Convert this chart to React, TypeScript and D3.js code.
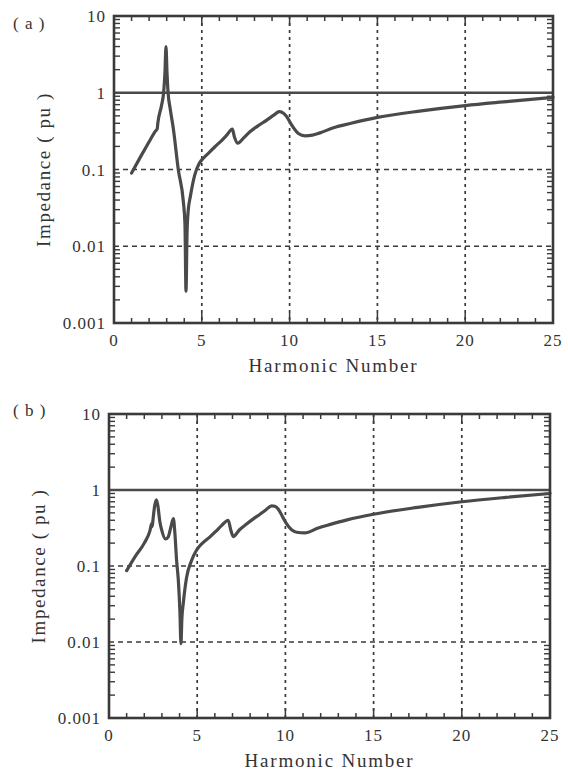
import React, { useEffect, useRef } from "react";
import * as d3 from "d3";

// panel (a) - harmonic number vs impedance (pu)
const harmA = [1.0, 1.5, 2.0, 2.33, 2.46, 2.5, 2.71, 2.83, 2.9, 2.96, 3.02, 3.08, 3.2, 3.38, 3.66, 3.95, 4.04, 4.1, 4.16, 4.22, 4.36, 4.6, 4.85, 5.09, 5.4, 5.75, 6.1, 6.42, 6.74, 6.85, 7.05, 7.4, 7.74, 8.2, 8.7, 9.1, 9.41, 9.6, 9.83, 10.12, 10.5, 10.88, 11.3, 11.73, 12.5, 13.5, 15, 17.5, 20, 22.5, 25];
const impA = [0.09, 0.145, 0.23, 0.31, 0.34, 0.41, 0.69, 1.03, 1.8, 4.0, 1.8, 1.0, 0.62, 0.34, 0.1, 0.038, 0.02, 0.0026, 0.015, 0.028, 0.046, 0.085, 0.12, 0.14, 0.165, 0.198, 0.235, 0.28, 0.336, 0.27, 0.22, 0.26, 0.31, 0.37, 0.44, 0.51, 0.566, 0.55, 0.49, 0.38, 0.295, 0.275, 0.28, 0.3, 0.35, 0.4, 0.477, 0.58, 0.68, 0.77, 0.87];

// panel (b)
const harmB = [1.0, 1.5, 2.0, 2.32, 2.42, 2.45, 2.5, 2.59, 2.69, 2.78, 2.87, 3.0, 3.2, 3.35, 3.5, 3.65, 3.74, 3.83, 3.93, 4.02, 4.08, 4.13, 4.21, 4.4, 4.68, 4.95, 5.3, 5.71, 6.05, 6.38, 6.76, 6.9, 7.05, 7.4, 7.8, 8.2, 8.56, 8.9, 9.22, 9.4, 9.6, 9.85, 10.07, 10.35, 10.64, 11.1, 11.86, 12.5, 13.5, 15, 17.5, 20, 22.5, 25];
const impB = [0.087, 0.135, 0.2, 0.29, 0.36, 0.33, 0.42, 0.62, 0.74, 0.6, 0.4, 0.29, 0.227, 0.24, 0.32, 0.42, 0.26, 0.12, 0.065, 0.025, 0.0095, 0.02, 0.032, 0.071, 0.118, 0.16, 0.2, 0.24, 0.285, 0.34, 0.4, 0.3, 0.244, 0.3, 0.357, 0.42, 0.48, 0.55, 0.62, 0.61, 0.56, 0.44, 0.358, 0.3, 0.278, 0.272, 0.316, 0.35, 0.405, 0.48, 0.59, 0.7, 0.8, 0.9];

const xTicks = [0, 5, 10, 15, 20, 25];
const yTicks = [10, 1, 0.1, 0.01, 0.001];
const yTickLabels = ["10", "1", "0.1", "0.01", "0.001"];

const ink = "#3a3a3a";
const font = "Liberation Serif, Tinos, DejaVu Serif, Times New Roman, serif";

function drawPanel(svg, p, hs, vs) {
  const x = d3.scaleLinear().domain([0, 25]).range([p.left, p.right]);
  const y = d3.scaleLog().domain([0.001, 10]).range([p.bottom, p.top]);
  const g = svg.append("g");

  // vertical dotted grid
  g.selectAll(".vg").data([5, 10, 15, 20]).enter().append("line")
    .attr("x1", d => x(d)).attr("x2", d => x(d))
    .attr("y1", p.top).attr("y2", p.bottom)
    .attr("stroke", ink).attr("stroke-width", 1.7).attr("stroke-dasharray", "3,4");

  // horizontal dashed grid
  g.selectAll(".hg").data([0.1, 0.01]).enter().append("line")
    .attr("x1", p.left).attr("x2", p.right)
    .attr("y1", d => y(d)).attr("y2", d => y(d))
    .attr("stroke", ink).attr("stroke-width", 1.7).attr("stroke-dasharray", "5,4");

  // 1 pu line
  g.append("line")
    .attr("x1", p.left).attr("x2", p.right)
    .attr("y1", y(1)).attr("y2", y(1))
    .attr("stroke", "#4a4a4a").attr("stroke-width", 2.4);

  // minor log ticks on both sides
  const minor = [];
  [0.001, 0.01, 0.1, 1].forEach(dec => {
    for (let k = 2; k <= 9; k++) minor.push(dec * k);
  });
  g.selectAll(".ym").data(minor).enter().append("line")
    .attr("x1", p.left).attr("x2", p.left + 6)
    .attr("y1", d => y(d)).attr("y2", d => y(d))
    .attr("stroke", ink).attr("stroke-width", 1.4);
  g.selectAll(".ym2").data(minor).enter().append("line")
    .attr("x1", p.right).attr("x2", p.right - 6)
    .attr("y1", d => y(d)).attr("y2", d => y(d))
    .attr("stroke", ink).attr("stroke-width", 1.4);

  // x ticks top and bottom
  const xt = d3.range(1, 25);
  g.selectAll(".xb").data(xt).enter().append("line")
    .attr("x1", d => x(d)).attr("x2", d => x(d))
    .attr("y1", p.bottom).attr("y2", d => p.bottom - (d % 5 === 0 ? 10 : 5))
    .attr("stroke", ink).attr("stroke-width", 1.5);
  g.selectAll(".xt").data(xt).enter().append("line")
    .attr("x1", d => x(d)).attr("x2", d => x(d))
    .attr("y1", p.top).attr("y2", d => p.top + (d % 5 === 0 ? 10 : 5))
    .attr("stroke", ink).attr("stroke-width", 1.5);

  // curve
  const pts = hs.map((h, i) => [h, vs[i]]);
  const line = d3.line().x(d => x(d[0])).y(d => y(d[1])).curve(d3.curveMonotoneX);
  g.append("path").attr("d", line(pts))
    .attr("fill", "none").attr("stroke", "#4a4a4a").attr("stroke-width", 3.2)
    .attr("stroke-linejoin", "round").attr("stroke-linecap", "round");

  // frame
  g.append("rect")
    .attr("x", p.left).attr("y", p.top)
    .attr("width", p.right - p.left).attr("height", p.bottom - p.top)
    .attr("fill", "none").attr("stroke", ink).attr("stroke-width", 2.6);

  // tick labels
  g.selectAll(".yl").data(yTicks).enter().append("text")
    .attr("x", p.left - 8).attr("y", d => y(d) + 6)
    .attr("text-anchor", "end")
    .style("font-family", font).attr("font-size", 17).attr("letter-spacing", 1)
    .attr("fill", "#333")
    .text((d, i) => yTickLabels[i]);
  g.selectAll(".xl").data(xTicks).enter().append("text")
    .attr("x", d => x(d)).attr("y", p.bottom + 23)
    .attr("text-anchor", "middle")
    .style("font-family", font).attr("font-size", 17).attr("letter-spacing", 1)
    .attr("fill", "#333")
    .text(d => d);

  // axis titles
  g.append("text")
    .attr("x", (p.left + p.right) / 2).attr("y", p.bottom + 49)
    .attr("text-anchor", "middle")
    .style("font-family", font).attr("font-size", 19).attr("letter-spacing", 1.8)
    .attr("fill", "#333")
    .text("Harmonic Number");
  g.append("text")
    .attr("transform", `translate(${p.left - 64}, ${(p.top + p.bottom) / 2}) rotate(-90)`)
    .attr("text-anchor", "middle")
    .style("font-family", font).attr("font-size", 19).attr("letter-spacing", 1.6)
    .attr("fill", "#333")
    .text("Impedance ( pu )");

  g.append("text")
    .attr("x", 13).attr("y", p.labelY)
    .style("font-family", font).attr("font-size", 17).attr("letter-spacing", 1)
    .attr("fill", "#333")
    .text(p.label);
}

export default function App() {
  const ref = useRef(null);
  useEffect(() => {
    const svg = d3.select(ref.current);
    svg.selectAll("*").remove();
    drawPanel(svg, { left: 114, right: 553, top: 16, bottom: 323, label: "( a )", labelY: 29 }, harmA, impA);
    drawPanel(svg, { left: 109, right: 550, top: 414, bottom: 718, label: "( b )", labelY: 416 }, harmB, impB);
  }, []);
  return (
    <svg ref={ref} width={568} height={770}
      style={{ position: "absolute", left: 0, top: 0, background: "#fff" }} />
  );
}
